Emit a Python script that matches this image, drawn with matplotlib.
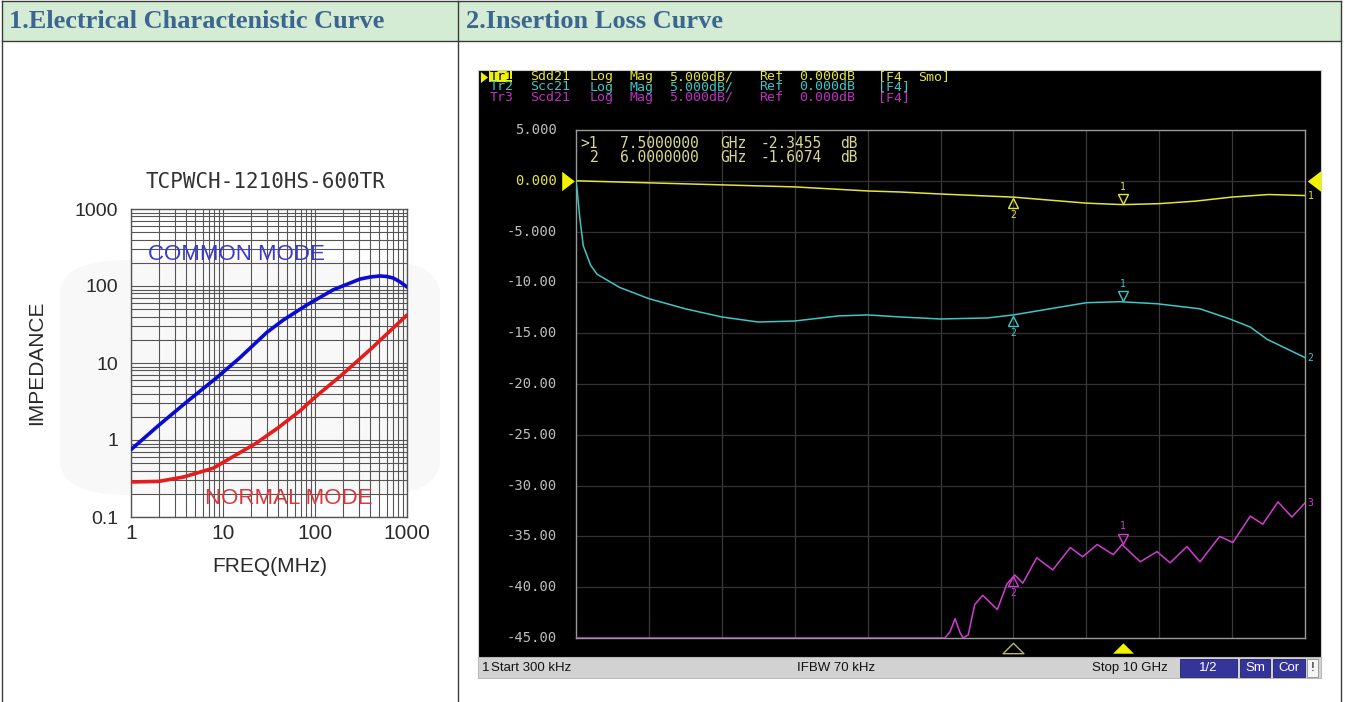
import re
import numpy as np
import matplotlib
matplotlib.use('Agg')
import matplotlib.pyplot as plt
from matplotlib.patches import Rectangle, FancyBboxPatch
from matplotlib.lines import Line2D
from matplotlib.path import Path
from matplotlib.ticker import LogLocator, NullFormatter, FixedLocator
import matplotlib.transforms as mtransforms

# ---------------- data ----------------
header_titles = ["1.Electrical Charactenistic Curve", "2.Insertion Loss Curve"]

imp_title = "TCPWCH-1210HS-600TR"
cm_freq = [1, 2, 4, 8.6, 15, 30, 45, 82, 157, 308, 400, 509, 600, 707, 842, 1000]
cm_imp = [0.75, 1.55, 3.1, 6.5, 11.5, 25, 36, 57, 89, 123, 131, 135, 133, 127, 113, 97]
nm_freq = [1, 2, 3.7, 7.8, 12, 23, 40, 69, 100, 190, 400, 1000]
nm_imp = [0.285, 0.29, 0.33, 0.43, 0.58, 0.91, 1.45, 2.4, 3.6, 6.8, 15, 42]
imp_xticks = [1, 10, 100, 1000]
imp_xlabels = ["1", "10", "100", "1000"]
imp_yticks = [0.1, 1, 10, 100, 1000]
imp_ylabels = ["0.1", "1", "10", "100", "1000"]

f_start, f_stop = 0.0003, 10.0  # GHz
db_ticks = [5, 0, -5, -10, -15, -20, -25, -30, -35, -40, -45]
db_labels = ["5.000", "0.000", "-5.000", "-10.00", "-15.00", "-20.00",
             "-25.00", "-30.00", "-35.00", "-40.00", "-45.00"]

sdd21_f = [0.0003, 0.5, 1, 2, 3, 4, 4.44, 5, 6, 7, 7.5, 8, 8.5, 9, 9.5, 10]
sdd21_db = [0, -0.1, -0.2, -0.4, -0.6, -1.0, -1.1, -1.3, -1.6074, -2.2, -2.3455,
            -2.25, -2.0, -1.6, -1.35, -1.45]

scc21_f = [0.0003, 0.014, 0.05, 0.1, 0.2, 0.29, 0.6, 1.0, 1.5, 2.0, 2.5, 3.0, 3.6,
           4.0, 4.44, 5.0, 5.64, 6.0, 6.5, 7.0, 7.46, 7.97, 8.56, 8.97, 9.25, 9.48, 10.0]
scc21_db = [0, -0.8, -3.5, -6.4, -8.3, -9.2, -10.5, -11.6, -12.6, -13.4, -13.9, -13.8,
            -13.3, -13.2, -13.4, -13.6, -13.5, -13.2, -12.6, -12.0, -11.9, -12.1,
            -12.6, -13.6, -14.4, -15.6, -17.4]

scd21_f = [0.0003, 5.06, 5.13, 5.20, 5.27, 5.31, 5.38, 5.47, 5.58, 5.78, 5.91, 6.02,
           6.13, 6.32, 6.54, 6.78, 6.95, 7.15, 7.37, 7.49, 7.74, 7.97, 8.15, 8.38,
           8.56, 8.83, 9.01, 9.25, 9.42, 9.63, 9.82, 10.0]
scd21_db = [-45, -45, -44.4, -43.1, -44.5, -45, -44.7, -41.7, -40.8, -42.2, -39.7,
            -38.8, -39.6, -37.1, -38.3, -36.1, -37.0, -35.8, -36.8, -35.8, -37.5,
            -36.5, -37.6, -36.0, -37.5, -35.0, -35.6, -33.0, -33.8, -31.6, -33.1, -31.7]

marker_f = [7.5, 6.0]
mk_sdd21 = [-2.3455, -1.6074]
mk_scc21 = [-11.9, -13.2]
mk_scd21 = [-35.8, -38.8]

trace_lines = ["Tr1 Sdd21 Log Mag 5.000dB/ Ref 0.000dB [F4 Smo]",
               "Tr2 Scc21 Log Mag 5.000dB/ Ref 0.000dB [F4]",
               "Tr3 Scd21 Log Mag 5.000dB/ Ref 0.000dB [F4]"]
readout_lines = [">1  7.5000000 GHz -2.3455 dB",
                 " 2  6.0000000 GHz -1.6074 dB"]

# ---------------- helpers ----------------
W, H = 1345, 702
fig = plt.figure(figsize=(W / 100, H / 100), dpi=100)
fig.patch.set_facecolor('white')


def add_axes_px(x0, y0, x1, y1):
    return fig.add_axes([x0 / W, 1 - y1 / H, (x1 - x0) / W, (y1 - y0) / H])


def rect_px(x0, y0, x1, y1, **kw):
    r = Rectangle((x0 / W, 1 - y1 / H), (x1 - x0) / W, (y1 - y0) / H,
                  transform=fig.transFigure, **kw)
    fig.add_artist(r)
    return r


def line_px(xs, ys, **kw):
    fig.add_artist(Line2D([x / W for x in xs], [1 - y / H for y in ys],
                          transform=fig.transFigure, **kw))


def text_px(x, y, s, **kw):
    return fig.text(x / W, 1 - y / H, s, **kw)


def mono_words(x0, y, s, step, **kw):
    for m in re.finditer(r'\S+', s):
        text_px(x0 + m.start() * step, y, m.group(), ha='left', va='center',
                family='DejaVu Sans Mono', **kw)


# ---------------- table ----------------
rect_px(2, 1, 1341, 41, facecolor='#d3ecd3', edgecolor='none', zorder=-2)
border = dict(color='#3a3a3a', lw=1.0, zorder=6)
line_px([2, 1341], [1, 1], **border)
line_px([2, 1341], [41, 41], **border)
line_px([2, 2], [1, 702], **border)
line_px([458, 458], [1, 702], **border)
line_px([1341, 1341], [1, 702], **border)
hdr_kw = dict(family='Liberation Serif', weight='bold', fontsize=19,
              color='#3d6591', va='center', ha='left')
text_px(9, 22, header_titles[0], **hdr_kw)
text_px(466, 22, header_titles[1], **hdr_kw)

# ---------------- left chart ----------------
wm = FancyBboxPatch((60 / W, 1 - 495 / H), 380 / W, 235 / H,
                    boxstyle='round,pad=0.0,rounding_size=0.05',
                    transform=fig.transFigure, facecolor='#f8f8f8',
                    edgecolor='none', zorder=-1)
fig.add_artist(wm)

ax1 = add_axes_px(131, 209, 407, 517)
ax1.set_facecolor('none')
ax1.set_xscale('log')
ax1.set_yscale('log')
ax1.set_xlim(1, 1000)
ax1.set_ylim(0.1, 1000)
ax1.xaxis.set_major_locator(FixedLocator(imp_xticks))
ax1.yaxis.set_major_locator(FixedLocator(imp_yticks))
ax1.set_xticklabels(imp_xlabels)
ax1.set_yticklabels(imp_ylabels)
ax1.xaxis.set_minor_locator(LogLocator(base=10, subs=np.arange(2, 10)))
ax1.yaxis.set_minor_locator(LogLocator(base=10, subs=np.arange(2, 10)))
ax1.xaxis.set_minor_formatter(NullFormatter())
ax1.yaxis.set_minor_formatter(NullFormatter())
ax1.grid(True, which='both', color='#555555', lw=0.8)
ax1.tick_params(which='both', length=0)
ax1.tick_params(axis='x', pad=5, labelsize=15, labelcolor='#2a2a2a')
ax1.tick_params(axis='y', pad=9, labelsize=14, labelcolor='#2a2a2a')
for lab in ax1.get_xticklabels() + ax1.get_yticklabels():
    lab.set_family('Liberation Sans')
for sp in ax1.spines.values():
    sp.set_color('#555555')
    sp.set_linewidth(1.0)
ax1.plot(cm_freq, cm_imp, color='#0a0ad2', lw=2.6, solid_capstyle='round', zorder=3)
ax1.plot(nm_freq, nm_imp, color='#e41c1c', lw=2.6, solid_capstyle='round', zorder=3)

text_px(265, 182, imp_title, family='DejaVu Sans Mono', fontsize=15,
        color='#333333', ha='center', va='center')
text_px(236, 254, "COMMON MODE", family='Liberation Sans', fontsize=16,
        color='#3a3ad0', ha='center', va='center', zorder=7)
text_px(289, 498, "NORMAL MODE", family='Liberation Sans', fontsize=16,
        color='#d8383c', ha='center', va='center', zorder=7)
text_px(270, 566, "FREQ(MHz)", family='Liberation Sans', fontsize=15,
        color='#2a2a2a', ha='center', va='center')
text_px(37, 363, "IMPEDANCE", family='Liberation Sans', fontsize=15,
        color='#2a2a2a', ha='center', va='center', rotation=90)

# ---------------- right chart (VNA) ----------------
rect_px(478, 70, 1321, 657, facecolor='black', edgecolor='#cfcfcf', lw=0.8, zorder=-1)
rect_px(478, 657, 1321, 678, facecolor='#d2d2d2', edgecolor='#b0b0b0', lw=0.6, zorder=-1)

ax2 = add_axes_px(576, 130, 1305, 638)
ax2.set_facecolor('black')
ax2.set_xlim(f_start, f_stop)
ax2.set_ylim(-45, 5)
ax2.set_xticks([])
ax2.set_yticks([])
for sp in ax2.spines.values():
    sp.set_color('#9a9a9a')
    sp.set_linewidth(1.0)
for k in range(1, 10):
    ax2.axvline(f_start + k * (f_stop - f_start) / 10, color='#3a3a3a', lw=0.9, zorder=1)
for v in db_ticks[1:-1]:
    ax2.axhline(v, color='#333333', lw=0.9, zorder=1)

c_y, c_c, c_m = '#e4e43a', '#3ec6c6', '#d23cd2'
ax2.plot(sdd21_f, sdd21_db, color=c_y, lw=1.1, zorder=4)
ax2.plot(scc21_f, scc21_db, color=c_c, lw=1.1, zorder=4)
ax2.plot(scd21_f, scd21_db, color=c_m, lw=1.1, zorder=4)


def off(dx, dy):
    return mtransforms.offset_copy(ax2.transData, fig=fig, x=dx, y=dy, units='dots')


for vals, col in ((mk_sdd21, c_y), (mk_scc21, c_c), (mk_scd21, c_m)):
    f1, f2 = marker_f
    v1, v2 = vals
    ax2.plot([f1], [v1], marker='v', ms=7, mfc='none', mec=col, mew=1.0,
             transform=off(0, 6), clip_on=False, zorder=5)
    ax2.annotate('1', xy=(f1, v1), xytext=(0, 13), textcoords='offset points',
                 ha='center', va='center', fontsize=7, color=col,
                 family='DejaVu Sans Mono')
    ax2.plot([f2], [v2], marker='^', ms=7, mfc='none', mec=col, mew=1.0,
             transform=off(0, -6), clip_on=False, zorder=5)
    ax2.annotate('2', xy=(f2, v2), xytext=(0, -13), textcoords='offset points',
                 ha='center', va='center', fontsize=7, color=col,
                 family='DejaVu Sans Mono')

# trace end labels
for vals, col, lab in ((sdd21_db, c_y, '1'), (scc21_db, c_c, '2'), (scd21_db, c_m, '3')):
    ax2.annotate(lab, xy=(f_stop, vals[-1]), xytext=(4, 0), textcoords='offset points',
                 ha='center', va='center', fontsize=7, color=col,
                 family='DejaVu Sans Mono', annotation_clip=False)

# reference-level triangles
tri_r = Path([(-0.65, -1), (-0.65, 1), (0.65, 0), (-0.65, -1)],
             [Path.MOVETO, Path.LINETO, Path.LINETO, Path.CLOSEPOLY])
tri_l = Path([(0.65, -1), (0.65, 1), (-0.65, 0), (0.65, -1)],
             [Path.MOVETO, Path.LINETO, Path.LINETO, Path.CLOSEPOLY])
ax2.plot([f_start], [0], marker=tri_r, ms=14, color='#f2f200', mec='none',
         transform=off(-8, 0), clip_on=False, zorder=6)
ax2.plot([f_stop], [0], marker=tri_l, ms=15, color='#f2f200', mec='none',
         transform=off(9, 0), clip_on=False, zorder=6)

# bottom marker position indicators
tri_up = Path([(-1, -0.5), (1, -0.5), (0, 0.5), (-1, -0.5)],
              [Path.MOVETO, Path.LINETO, Path.LINETO, Path.CLOSEPOLY])
ax2.plot([marker_f[1]], [-45], marker=tri_up, ms=15, mfc='none', mec='#b8b860',
         mew=1.0, transform=off(0, -10), clip_on=False, zorder=6)
ax2.plot([marker_f[0]], [-45], marker=tri_up, ms=15, color='#f2f200', mec='none',
         transform=off(0, -10), clip_on=False, zorder=6)

# y-axis labels
for v, lab in zip(db_ticks, db_labels):
    col = '#e4e43a' if lab == '0.000' else '#bdbdbd'
    y_px = 130 + (5 - v) / 50 * 508
    text_px(557, y_px, lab, family='DejaVu Sans Mono', fontsize=10, color=col,
            ha='right', va='center')

# trace header lines
rect_px(489, 71, 512, 82, facecolor='#f0f000', edgecolor='none', zorder=2)
fig.add_artist(Line2D([484 / W], [1 - 76.5 / H], marker=tri_r, ms=8, color='#f0f000',
                      mec='none', transform=fig.transFigure))
mono_words(490, 76.5, trace_lines[0].split(' ', 1)[0], 9.96, fontsize=9.5, color='black')
mono_words(490, 76.5, '    ' + trace_lines[0].split(' ', 1)[1], 9.96, fontsize=9.5, color=c_y)
mono_words(490, 87, trace_lines[1], 9.96, fontsize=9.5, color=c_c)
mono_words(490, 97.5, trace_lines[2], 9.96, fontsize=9.5, color='#c030c0')

# marker readout
mono_words(580, 143, readout_lines[0], 10.0, fontsize=10.5, color='#d8d890')
mono_words(580, 157, readout_lines[1], 10.0, fontsize=10.5, color='#d8d890')

# status bar
sb = dict(family='Liberation Sans', fontsize=9.5, color='#111111', va='center')
text_px(482, 668, "1", ha='left', **sb)
text_px(491, 668, "Start 300 kHz", ha='left', **sb)
text_px(836, 668, "IFBW 70 kHz", ha='center', **sb)
text_px(1092, 668, "Stop 10 GHz", ha='left', **sb)
for (x0, x1, lab) in ((1180, 1237, '1/2'), (1240, 1270, 'Sm'), (1273, 1305, 'Cor')):
    rect_px(x0, 659, x1, 677, facecolor='#34349a', edgecolor='#20206a', lw=0.6, zorder=2)
    text_px((x0 + x1) / 2, 668, lab, family='Liberation Sans', fontsize=9.5,
            color='white', ha='center', va='center')
rect_px(1307, 659, 1318, 677, facecolor='#f4f4f4', edgecolor='#909090', lw=0.6, zorder=2)
text_px(1312.5, 668, "!", family='Liberation Sans', fontsize=9.5, color='#111111',
        ha='center', va='center')

fig.savefig('out.png', dpi=100, facecolor='white')
